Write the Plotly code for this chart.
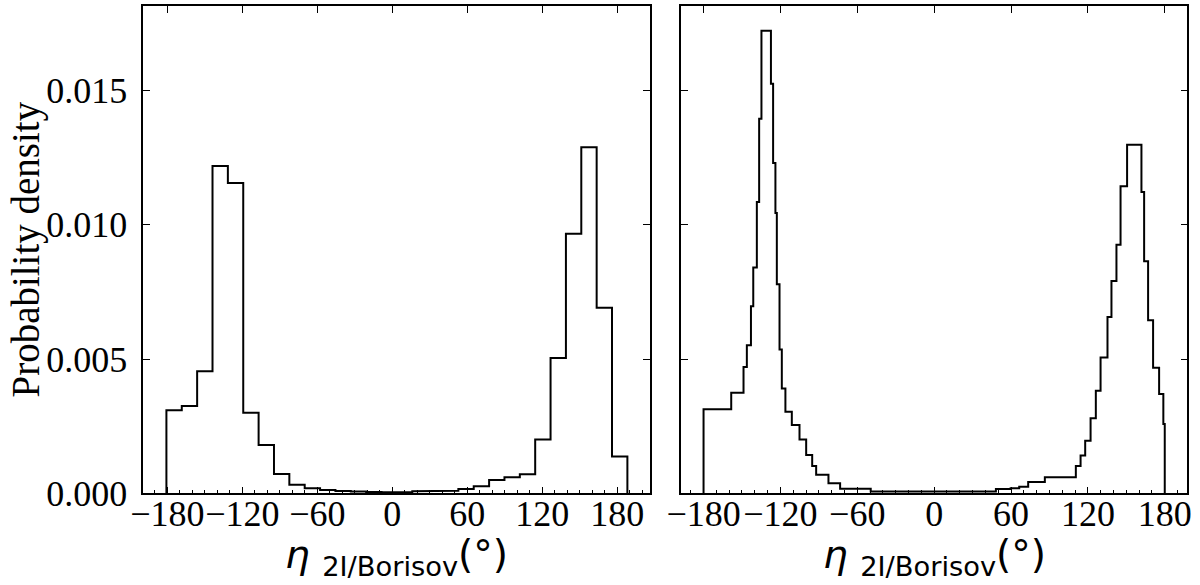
import plotly.graph_objects as go

# ---- data ----
left_edges = [-180.8, -168.5, -156.2, -143.9, -131.6, -119.3, -107.0, -94.7, -82.4, -70.1,
              -57.8, -45.5, -33.2, -20.9, -8.6, 3.7, 16.0, 28.3, 40.6, 52.9,
              65.2, 77.5, 89.8, 102.1, 114.4, 126.7, 139.0, 151.3, 163.6, 175.9, 188.2]
left_density = [0.00310, 0.00325, 0.00455, 0.01219, 0.01156, 0.00300, 0.00180, 0.00072, 0.00032, 0.00019,
                0.00013, 0.00009, 0.00007, 0.00005, 0.00004, 0.00004, 0.00008, 0.00009, 0.00010, 0.00016,
                0.00027, 0.00050, 0.00060, 0.00071, 0.00201, 0.00504, 0.00967, 0.01289, 0.00691, 0.00137]

right_edges = [-180.0, -158.4, -148.8, -146.2, -143.0, -141.2, -138.4, -136.6, -134.8, -127.4,
               -125.7, -123.9, -122.8, -120.7, -118.9, -116.1, -111.1, -105.1, -99.9, -95.2,
               -92.1, -82.5, -73.4, -49.5, 48.2, 59.7, 66.4, 73.4, 86.4, 110.6,
               114.3, 117.9, 122.1, 126.2, 129.9, 135.3, 138.4, 142.3, 145.5, 150.6,
               161.8, 163.9, 167.0, 170.9, 175.6, 178.9, 180.0]
right_density = [0.00313, 0.00375, 0.00471, 0.00552, 0.00697, 0.00841, 0.01085, 0.01395, 0.01723, 0.01525,
                 0.01230, 0.01044, 0.00779, 0.00536, 0.00391, 0.00304, 0.00255, 0.00201, 0.00143, 0.00102,
                 0.00069, 0.00038, 0.00017, 0.00007, 0.00016, 0.00019, 0.00025, 0.00042, 0.00060, 0.00102,
                 0.00141, 0.00196, 0.00280, 0.00382, 0.00506, 0.00657, 0.00791, 0.00926, 0.01144, 0.01298,
                 0.01122, 0.00864, 0.00645, 0.00468, 0.00370, 0.00258]

x_tickvals = [-180, -120, -60, 0, 60, 120, 180]
x_ticktext = ["\u2212180", "\u2212120", "\u221260", "0", "60", "120", "180"]
y_tickvals = [0.0, 0.005, 0.010, 0.015]
y_ticktext = ["0.000", "0.005", "0.010", "0.015"]

y_label = "Probability density"
x_label = "<i>\u03b7</i> <sub>2I/Borisov</sub>(\u00b0)"


def step_xy(edges, dens):
    xs = [edges[0]]
    ys = [0.0]
    for i, d in enumerate(dens):
        xs += [edges[i], edges[i + 1]]
        ys += [d, d]
    xs.append(edges[-1])
    ys.append(0.0)
    return xs, ys


W, H = 1200, 585
serif = "Liberation Serif, Times New Roman, serif"
tick_font = dict(family=serif, size=36, color="black")

fig = go.Figure()
lx, ly = step_xy(left_edges, left_density)
rx, ry = step_xy(right_edges, right_density)
fig.add_trace(go.Scatter(x=lx, y=ly, mode="lines", line=dict(color="black", width=2),
                         xaxis="x", yaxis="y", showlegend=False, hoverinfo="skip"))
fig.add_trace(go.Scatter(x=rx, y=ry, mode="lines", line=dict(color="black", width=2),
                         xaxis="x2", yaxis="y2", showlegend=False, hoverinfo="skip"))
# invisible traces for the top tick axes
fig.add_trace(go.Scatter(x=[0], y=[0], mode="markers", marker=dict(opacity=0),
                         xaxis="x3", yaxis="y", showlegend=False, hoverinfo="skip"))
fig.add_trace(go.Scatter(x=[0], y=[0], mode="markers", marker=dict(opacity=0),
                         xaxis="x4", yaxis="y2", showlegend=False, hoverinfo="skip"))

ydom = [1 - 493.4 / H, 1 - 5.7 / H]
xdom1 = [143.3 / W, 650.0 / W]
xdom2 = [681.0 / W, 1187.3 / W]
xr1 = [-199.3, 206.3]
xr2 = [-197.6, 197.6]
yr = [0, 0.01816]

common_x = dict(
    showgrid=False, zeroline=False, showline=True, linecolor="black", linewidth=1.6,
    mirror=True, ticks="inside", ticklen=7, tickwidth=1.3, tickcolor="black",
    tickvals=x_tickvals, ticktext=x_ticktext, tickfont=tick_font, tickangle=0,
    automargin=False,
    minor=dict(ticks="inside", ticklen=4, tickwidth=1.1, tickcolor="black", dtick=10, tick0=0,
               showgrid=False),
)
top_x = dict(
    showgrid=False, zeroline=False, showline=False, side="top", automargin=False,
    ticks="inside", ticklen=7, tickwidth=1.3, tickcolor="black",
    tickvals=x_tickvals, showticklabels=False,
)
common_y = dict(
    showgrid=False, zeroline=False, showline=True, linecolor="black", linewidth=1.6,
    mirror="ticks", ticks="inside", ticklen=7, tickwidth=1.3, tickcolor="black",
    tickvals=y_tickvals, ticktext=y_ticktext, tickfont=tick_font, range=yr,
    automargin=False,
)

fig.update_layout(
    width=W, height=H,
    margin=dict(l=0, r=0, t=0, b=0),
    paper_bgcolor="white", plot_bgcolor="white",
    xaxis=dict(common_x, domain=xdom1, range=xr1, anchor="y", ticklabelstandoff=-12),
    xaxis2=dict(common_x, domain=xdom2, range=xr2, anchor="y2", ticklabelstandoff=-12),
    xaxis3=dict(top_x, overlaying="x", range=xr1, anchor="y"),
    xaxis4=dict(top_x, overlaying="x2", range=xr2, anchor="y2"),
    yaxis=dict(common_y, domain=ydom, anchor="x", ticklabelstandoff=7),
    yaxis2=dict(common_y, domain=ydom, anchor="x2", showticklabels=False),
    annotations=[
        dict(text=y_label, x=26 / W, y=(ydom[0] + ydom[1]) / 2, xref="paper", yref="paper",
             textangle=-90, showarrow=False, font=dict(family=serif, size=39, color="black"),
             xanchor="center", yanchor="middle"),
        dict(text=x_label, x=(xdom1[0] + xdom1[1]) / 2, y=1 - 557 / H, xref="paper", yref="paper",
             showarrow=False, font=dict(family="DejaVu Sans", size=39, color="black"),
             xanchor="center", yanchor="middle"),
        dict(text=x_label, x=(xdom2[0] + xdom2[1]) / 2, y=1 - 557 / H, xref="paper", yref="paper",
             showarrow=False, font=dict(family="DejaVu Sans", size=39, color="black"),
             xanchor="center", yanchor="middle"),
    ],
)

fig.write_html("out.html", config={"displayModeBar": False},
               post_script="document.body.style.margin='0';")
